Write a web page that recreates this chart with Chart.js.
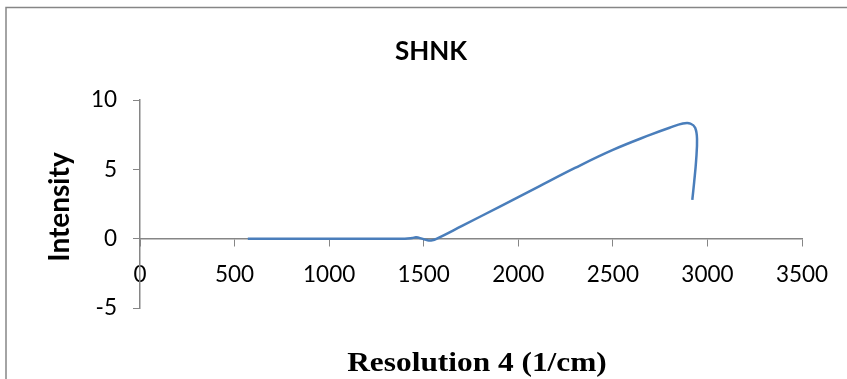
<!DOCTYPE html>
<html>
<head>
<meta charset="utf-8">
<script src="https://cdn.jsdelivr.net/npm/chart.js@4.4.0/dist/chart.umd.min.js"></script>
<style>
  html, body { margin: 0; padding: 0; background: #fff; }
  #wrap { width: 847px; height: 379px; position: relative; }
</style>
</head>
<body>
<div id="wrap"><canvas id="shnkChart"></canvas></div>
<script>
// SHNK spectrum, resolution 4 (1/cm)
const waveNumbers = [570, 800, 1000, 1200, 1400, 1440, 1460, 1490, 1520, 1545, 1570,
    1700, 1900, 2100, 2300, 2500, 2700, 2800, 2870, 2910, 2935, 2945, 2940, 2930, 2920];
const intensities = [0, 0, 0, 0, 0, 0.05, 0.1, 0, -0.12, -0.12, 0,
    0.9, 2.3, 3.7, 5.1, 6.4, 7.5, 8.0, 8.3, 8.3, 8.0, 7.2, 5.6, 4.1, 2.8];

const xTicks = [0, 500, 1000, 1500, 2000, 2500, 3000, 3500];
const yTicks = [-5, 0, 5, 10];

const chartTitle = "SHNK";
const xTitle = "Resolution 4 (1/cm)";
const yTitle = "Intensity";

const axisGrey = "#868686";

// frame + titles, drawn after the chart
const decorations = {
    id: "decorations",
    afterDraw(chart) {
        const ctx = chart.ctx;
        ctx.save();
        ctx.strokeStyle = axisGrey;
        ctx.lineWidth = 1.5;
        ctx.strokeRect(6, 7.5, 900, 500);

        ctx.fillStyle = "#000";
        ctx.textAlign = "center";
        ctx.textBaseline = "middle";

        ctx.font = "bold 26px Lato";
        ctx.fillText(chartTitle, 431, 52);

        // serif axis title is a little wider than its height suggests
        ctx.save();
        ctx.translate(477, 364);
        ctx.scale(1.12, 1);
        ctx.font = "bold 28px 'Liberation Serif'";
        ctx.fillText(xTitle, 0, 0);
        ctx.restore();

        ctx.translate(60, 207);
        ctx.rotate(-Math.PI / 2);
        ctx.font = "bold 28px Lato";
        ctx.fillText(yTitle, 0, 0);
        ctx.restore();
    }
};

new Chart(document.getElementById("shnkChart"), {
    type: "scatter",
    data: {
        datasets: [{
            data: waveNumbers.map((x, i) => ({ x: x, y: intensities[i] })),
            showLine: true,
            borderColor: "#4A7EBB",
            borderWidth: 2.5,
            pointRadius: 0,
            tension: 0.4,
            fill: false
        }]
    },
    options: {
        responsive: true,
        maintainAspectRatio: false,
        animation: false,
        layout: { padding: { left: 0, top: 100, right: 45, bottom: 71 } },
        plugins: {
            legend: { display: false },
            tooltip: { enabled: false }
        },
        scales: {
            x: {
                type: "linear",
                position: { y: 0 },
                min: xTicks[0],
                max: xTicks[xTicks.length - 1],
                afterBuildTicks: s => { s.ticks = xTicks.map(v => ({ value: v })); },
                grid: { drawOnChartArea: false, tickLength: 7, color: axisGrey },
                border: { color: axisGrey, width: 1.5 },
                ticks: {
                    padding: 16,
                    color: "#000",
                    font: { family: "Lato", size: 22.5 },
                    maxRotation: 0,
                    callback: v => String(v)
                }
            },
            y: {
                min: yTicks[0],
                max: yTicks[yTicks.length - 1],
                afterBuildTicks: s => { s.ticks = yTicks.map(v => ({ value: v })); },
                afterFit: s => { s.width = 140; },
                grid: { drawOnChartArea: false, tickLength: 7, color: axisGrey },
                border: { color: axisGrey, width: 1.5 },
                ticks: {
                    padding: 16,
                    color: "#000",
                    font: { family: "Lato", size: 22.5 },
                    callback: v => String(v)
                }
            }
        }
    },
    plugins: [decorations]
});
</script>
</body>
</html>
